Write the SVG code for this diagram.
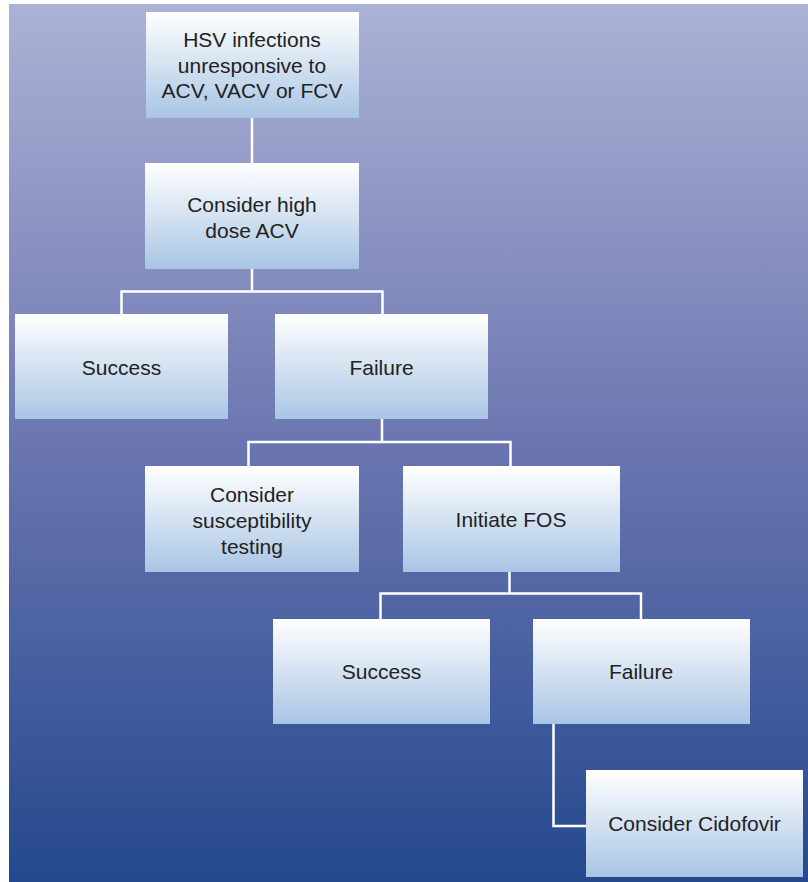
<svg xmlns="http://www.w3.org/2000/svg" width="808" height="882" viewBox="0 0 808 882">
<defs>
<linearGradient id="bg" x1="0" y1="0" x2="0" y2="1">
<stop offset="0" stop-color="#acb2d5"/>
<stop offset="0.5" stop-color="#6b76b0"/>
<stop offset="1" stop-color="#24488e"/>
</linearGradient>
<linearGradient id="box" x1="0" y1="0" x2="0" y2="1">
<stop offset="0" stop-color="#ffffff"/>
<stop offset="1" stop-color="#a9c5e4"/>
</linearGradient>
<style>
.n rect{fill:url(#box);}
.n text{font-family:"Liberation Sans",Arial,sans-serif;font-size:21px;fill:#222;text-anchor:middle;}
#connectors path{fill:none;stroke:#ffffff;stroke-width:2.5;}
</style>
</defs>
<rect x="9" y="4" width="799" height="878" fill="url(#bg)"/>
<g id="connectors">
<path d="M252 118V163"/>
<path d="M252 268V291.5M121.5 314V291.5H382.5V314"/>
<path d="M382 419V442M248.5 466V442H510.5V466"/>
<path d="M509.5 572V593.5M380.5 619V593.5H641V619"/>
<path d="M553.5 724V826H586"/>
</g>
<g id="n1" class="n"><rect x="146" y="12" width="213" height="106"/>
<text x="252" y="47">HSV infections</text><text x="252" y="72.5">unresponsive to</text><text x="252" y="98">ACV, VACV or FCV</text></g>
<g id="n2" class="n"><rect x="145" y="163" width="214" height="106"/>
<text x="252" y="211.5">Consider high</text><text x="252" y="237.5">dose ACV</text></g>
<g id="n3" class="n"><rect x="15" y="314" width="213" height="105"/>
<text x="121.5" y="374.5">Success</text></g>
<g id="n4" class="n"><rect x="275" y="314" width="213" height="105"/>
<text x="381.5" y="374.5">Failure</text></g>
<g id="n5" class="n"><rect x="145" y="466" width="214" height="106"/>
<text x="252" y="501.5">Consider</text><text x="252" y="527.5">susceptibility</text><text x="252" y="553.5">testing</text></g>
<g id="n6" class="n"><rect x="403" y="466" width="217" height="106"/>
<text x="511" y="527">Initiate FOS</text></g>
<g id="n7" class="n"><rect x="273" y="619" width="217" height="105"/>
<text x="381.5" y="679">Success</text></g>
<g id="n8" class="n"><rect x="533" y="619" width="217" height="105"/>
<text x="641" y="679">Failure</text></g>
<g id="n9" class="n"><rect x="586" y="770" width="217" height="107"/>
<text x="694.5" y="831">Consider Cidofovir</text></g>
</svg>
